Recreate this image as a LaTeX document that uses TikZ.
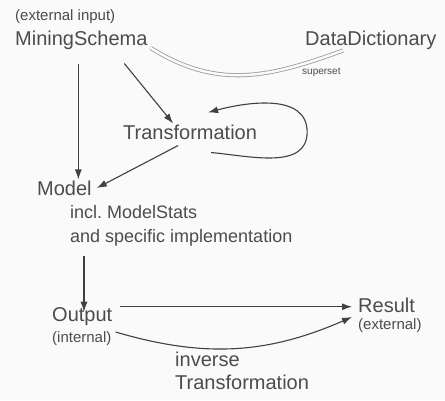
\documentclass[tikz,border=0pt]{standalone}
\usepackage{fontspec}
\setmainfont{Liberation Sans}
\usetikzlibrary{arrows.meta}

\begin{document}
\begin{tikzpicture}[
       x=1pt,y=1pt,
       txt/.style={
         anchor=west,
         inner sep=1pt,
         text=black!70,
         font=\fontsize{20}{23}\selectfont
       },
       petit/.style={
         txt,
         font=\fontsize{15}{18}\selectfont
       },
       fleche/.style={
         draw=black!75,
         line width=1.1pt,
         -{Latex[length=10pt,width=7pt]}
       }
     ]
\useasboundingbox[fill=black!2] (0,0) rectangle (445,400);

\node[petit] (ext) at (14,383) {(external input)};
\node[txt] (ms) at (14,360) {MiningSchema};
\node[txt] (dd) at (304,360) {DataDictionary};
\node[txt,font=\fontsize{10}{12}\selectfont] (sup) at (301,328) {superset};
\node[txt] (t) at (122,268) {Transformation};
\node[txt] (m) at (36,212) {Model};
\node[txt,align=left,font=\fontsize{18}{24}\selectfont] (mi) at (69,174) {incl.\ ModelStats\\and specific implementation};
\node[txt] (o) at (51,83) {Output};
\node[petit] (oi) at (51,61) {(internal)};
\node[txt] (r) at (357,95) {Result};
\node[petit] (re) at (357,74) {(external)};
\node[txt,align=left,anchor=north west] (inv) at (174,49) {inverse\\Transformation};

\coordinate (a1) at ([xshift=-3pt,yshift=-13pt]ms.south);
\coordinate (a2) at ([xshift=15pt,yshift=-8pt]mi.south west);
\coordinate (os) at ([xshift=7pt]o.north east);

\draw[draw=black!40,double=black!2,double distance=2.5pt,line width=0.8pt]
  ([xshift=2pt,yshift=-8pt]ms.east) to[out=-32,in=200,looseness=1.05] ([xshift=39pt]dd.south west);
\draw[fleche] (a1) -- (a1 |- m.north);
\draw[fleche] ([xshift=43pt,yshift=-13pt]ms.south) -- ([xshift=-17pt]t.north);
\draw[fleche] ([xshift=21pt,yshift=-12pt]t.south) to[out=-5,in=-90] ([xshift=49pt]t.east)
  to[out=90,in=15] ([xshift=18pt,yshift=11pt]t.north);
\draw[fleche] ([xshift=-12pt,yshift=-5pt]t.south) -- ([xshift=4pt]m.east);
\draw[fleche,shorten >=-5pt] (a2) -- (a2 |- o.north);
\draw[fleche,shorten >=5pt] (os) -- (os -| r.west);
\draw[fleche] ([xshift=3pt,yshift=7pt]oi.east) to[bend right=20] ([xshift=-5pt,yshift=9pt]re.west);

\end{tikzpicture}
\end{document}
